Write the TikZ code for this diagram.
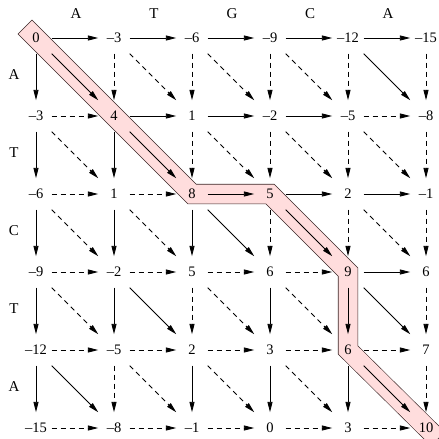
\documentclass[tikz,border=0pt]{standalone}
\usepackage{fontspec}
\setmainfont{Liberation Serif}
\usetikzlibrary{arrows.meta}
\definecolor{bandpink}{RGB}{255,221,221}
\definecolor{bandline}{RGB}{60,40,40}
\begin{document}
\begin{tikzpicture}[x=1pt,y=-1pt,
  val/.style={rectangle,minimum width=31pt,minimum height=31pt,inner sep=0pt,font=\fontsize{14.5}{16}\selectfont},
  lab/.style={inner sep=0pt,font=\fontsize{15}{17}\selectfont},
  sol/.style={-{Triangle[length=10.5pt,width=5pt]},line width=0.9pt},
  das/.style={sol,dash pattern=on 5pt off 4pt}]
\useasboundingbox (0,0) rectangle (439,439);
\clip (0,0) rectangle (439,439);
\foreach \i in {0,...,5}{
  \foreach \j in {0,...,5}{
    \coordinate (c\i\j) at ({36+78*\j},{38+78*\i});
  }
}
\coordinate (bs) at (32,34);
\coordinate (be) at (431,432);
% highlighted path band
\draw[bandline,line width=20.2pt,line cap=rect,line join=miter]
  (bs) -- (c11) -- (c22) -- (c23) -- (c34) -- (c44) -- (be);
\draw[bandpink,line width=19pt,line cap=rect,line join=miter]
  (bs) -- (c11) -- (c22) -- (c23) -- (c34) -- (c44) -- (be);
% values
\foreach \i/\l in {
  0/{0,–3,–6,–9,–12,–15},
  1/{–3,4,1,–2,–5,–8},
  2/{–6,1,8,5,2,–1},
  3/{–9,–2,5,6,9,6},
  4/{–12,–5,2,3,6,7},
  5/{–15,–8,–1,0,3,10}}{
  \foreach \v [count=\j from 0] in \l {
    \node[val] (n\i\j) at (c\i\j) {\v};
  }
}
% headers
\foreach \t [count=\k from 0] in {A,T,G,C,A}{
  \node[lab] (col\k) at ({76+78*\k},14) {\t};
}
\foreach \t [count=\k from 0] in {A,T,C,T,A}{
  \node[lab] (row\k) at (14,{75+78*\k}) {\t};
}
% horizontal arrows
\foreach \i/\l in {
  0/{sol,sol,sol,sol,sol},
  1/{das,sol,sol,sol,das},
  2/{das,das,sol,sol,sol},
  3/{das,das,das,das,sol},
  4/{das,das,das,das,das},
  5/{das,das,das,das,das}}{
  \foreach \s [count=\j from 0] in \l {
    \pgfmathtruncatemacro\jj{\j+1}
    \draw[\s] (n\i\j) -- (n\i\jj);
  }
}
% vertical arrows
\foreach \i/\l in {
  0/{sol,das,das,das,das,das},
  1/{sol,sol,das,das,das,das},
  2/{sol,sol,sol,das,das,das},
  3/{sol,sol,das,sol,sol,das},
  4/{sol,das,sol,sol,sol,das}}{
  \foreach \s [count=\j from 0] in \l {
    \pgfmathtruncatemacro\ii{\i+1}
    \draw[\s] (n\i\j) -- (n\ii\j);
  }
}
% diagonal arrows
\foreach \i/\l in {
  0/{sol,das,das,das,sol},
  1/{das,sol,das,das,das},
  2/{das,das,sol,sol,das},
  3/{das,sol,das,das,sol},
  4/{sol,das,das,das,sol}}{
  \foreach \s [count=\j from 0] in \l {
    \pgfmathtruncatemacro\ii{\i+1}
    \pgfmathtruncatemacro\jj{\j+1}
    \draw[\s] (n\i\j) -- (n\ii\jj);
  }
}
\end{tikzpicture}
\end{document}
